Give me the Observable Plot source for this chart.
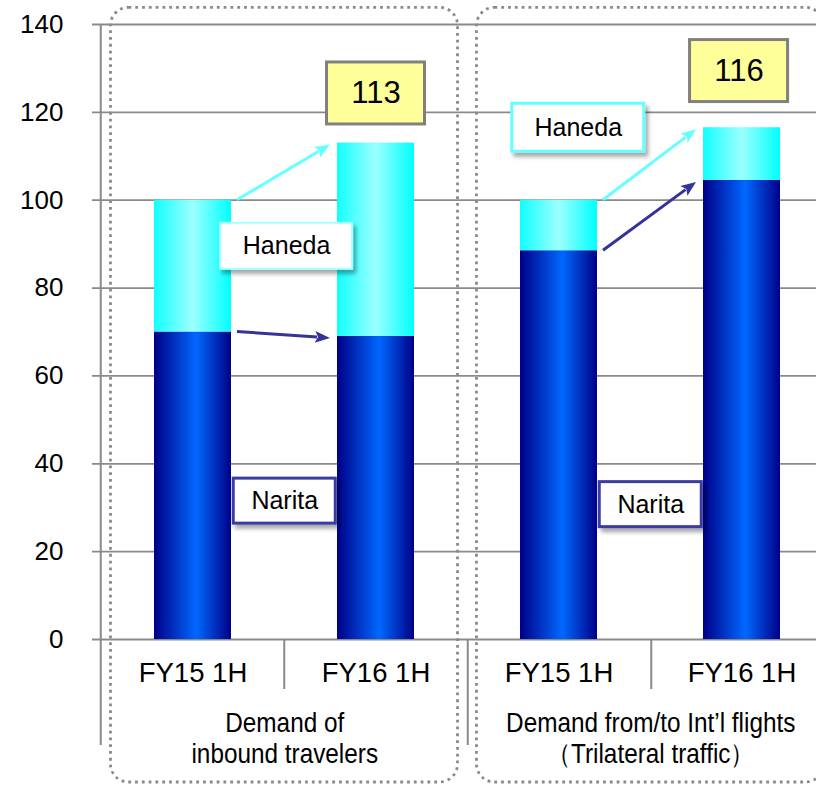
<!DOCTYPE html>
<html>
<head>
<meta charset="utf-8">
<script src="https://cdn.jsdelivr.net/npm/d3@7"></script>
<script src="https://cdn.jsdelivr.net/npm/@observablehq/plot@0.6"></script>
<style>
  html, body { margin: 0; padding: 0; background: #fff; overflow: hidden; }
  #chart { width: 816px; height: 785px; overflow: hidden; }
  #chart g[aria-label="x-axis tick label"] text, #chart g[aria-label="x-axis"] text { font-size: 27.5px; }
</style>
</head>
<body>
<div id="chart"></div>
<script>
// ---------- data ----------
const groups = ["inbound", "intl"];
const groupLabels = [
  ["Demand of", "inbound travelers"],
  ["Demand from/to Int\u2019l flights", "\uFF08Trilateral traffic\uFF09"]
];
const periods = ["FY15 1H", "FY16 1H"];
const seriesNames = ["Narita", "Haneda"];
const naritaValues = [70, 69, 88.5, 104.5];
const hanedaValues = [30, 44, 11.5, 12];
const totalLabels = ["113", "116"];
const yTicks = [0, 20, 40, 60, 80, 100, 120, 140];

// ---------- derived tables ----------
const keys = groups.flatMap(g => periods.map(p => `${g}|${p}`));
const rows = keys.flatMap((k, i) => [
  {key: k, series: seriesNames[0], value: naritaValues[i]},
  {key: k, series: seriesNames[1], value: hanedaValues[i]}
]);
const totals = keys.map((k, i) => naritaValues[i] + hanedaValues[i]);

// ---------- layout / style ----------
const W = 816, H = 785;
const xRange = [100, 834];
const step = (xRange[1] - xRange[0]) / keys.length;
const gridColor = "#8a8a8a";
const mainFont = "'Liberation Sans', Arial, sans-serif";
const narrowScale = 0.885;

// annotation boxes: anchored on a bar (index), shifted by a fraction of a step, at a y value
const notes = [
  {text: seriesNames[1], at: 0, shift: 0.51, value: 89.5, style: "hanedaSoft"},
  {text: seriesNames[0], at: 0, shift: 0.5, value: 31.5, style: "narita"},
  {text: totalLabels[0], at: 1, shift: 0, value: 124.3, style: "total"},
  {text: seriesNames[1], at: 2, shift: 0.105, value: 116.5, style: "haneda"},
  {text: seriesNames[0], at: 2, shift: 0.5, value: 30.7, style: "narita"},
  {text: totalLabels[1], at: 3, shift: -0.016, value: 129.4, style: "total"}
];
const boxStyles = {
  hanedaSoft: {w: 132, h: 46, fill: "#fff", stroke: "#a8ffff", sw: 2, shadow: true, fs: 25},
  haneda: {w: 132, h: 48, fill: "#fff", stroke: "#66ffff", sw: 3, shadow: true, fs: 25},
  narita: {w: 102, h: 45, fill: "#fff", stroke: "#3b3ba6", sw: 3, shadow: true, fs: 25},
  total: {w: 98, h: 62, fill: "#ffff99", stroke: "#808080", sw: 3, shadow: false, fs: 31}
};
// white cards hiding gridlines in the gaps between bars
const patches = [
  {at: 0, lo: 79.3, hi: 99.3},
  {at: 0, lo: 19.5, hi: 38.9},
  {at: 2, lo: 19.5, hi: 38.9}
];

// ---------- custom render marks (use Plot's scales) ----------
function defsMark() {
  const g = d3.create("svg:g");
  const defs = g.append("defs");
  const gn = defs.append("linearGradient").attr("id", "gradNarita").attr("x1", 0).attr("x2", 1).attr("y1", 0).attr("y2", 0);
  [[0, "#000088"], [0.55, "#0068ff"], [1, "#000088"]].forEach(([o, c]) => gn.append("stop").attr("offset", o).attr("stop-color", c));
  const gh = defs.append("linearGradient").attr("id", "gradHaneda").attr("x1", 0).attr("x2", 1).attr("y1", 0).attr("y2", 0);
  [[0, "#11ffff"], [0.5, "#9cffff"], [1, "#00ffff"]].forEach(([o, c]) => gh.append("stop").attr("offset", o).attr("stop-color", c));
  const f = defs.append("filter").attr("id", "shadow").attr("x", "-20%").attr("y", "-20%").attr("width", "150%").attr("height", "160%");
  f.append("feDropShadow").attr("dx", 3).attr("dy", 4).attr("stdDeviation", 2.2).attr("flood-color", "#000").attr("flood-opacity", 0.35);
  return g.node();
}

function framesMark(index, scales, values, dims) {
  const {x, y} = scales;
  const bw = x.bandwidth();
  const g = d3.create("svg:g").attr("fill", "none").attr("stroke", gridColor)
    .attr("stroke-width", 2.8).attr("stroke-dasharray", "2.8 4");
  groups.forEach((grp, gi) => {
    const left = x(keys[2 * gi]) + bw / 2 - 0.447 * step;
    const right = x(keys[2 * gi + 1]) + bw / 2 + 0.447 * step;
    const top = y(143.8);
    const bottom = dims.height - 3;
    g.append("rect").attr("x", left).attr("y", top).attr("width", right - left)
      .attr("height", bottom - top).attr("rx", 18).attr("ry", 18);
  });
  return g.node();
}

function patchesMark(index, scales) {
  const {x, y} = scales;
  const bw = x.bandwidth();
  const g = d3.create("svg:g").attr("fill", "#fff");
  patches.forEach(p => {
    const x1 = x(keys[p.at]) + bw, x2 = x(keys[p.at + 1]);
    g.append("rect").attr("x", x1).attr("y", y(p.hi)).attr("width", x2 - x1).attr("height", y(p.lo) - y(p.hi));
  });
  return g.node();
}

function separatorsMark(index, scales) {
  const {x, y} = scales;
  const bw = x.bandwidth();
  const y0 = y(0);
  const g = d3.create("svg:g").attr("stroke", gridColor).attr("stroke-width", 2);
  for (let i = 0; i <= keys.length; i++) {
    const ex = x(keys[0]) + bw / 2 - step / 2 + i * step;
    const top = i === 0 ? y(yTicks[yTicks.length - 1]) : y0;
    const bottom = i % 2 === 0 ? y0 + 106 : y0 + 50;
    g.append("line").attr("x1", ex).attr("x2", ex).attr("y1", top).attr("y2", bottom);
  }
  return g.node();
}

function arrowsMark(index, scales) {
  const {x, y} = scales;
  const bw = x.bandwidth();
  const g = d3.create("svg:g");
  const specs = [];
  groups.forEach((grp, gi) => {
    const a = 2 * gi, b = 2 * gi + 1;
    specs.push({k1: keys[a], k2: keys[b], v1: totals[a], v2: totals[b], color: "#66ffff"});
    specs.push({k1: keys[a], k2: keys[b], v1: naritaValues[a], v2: naritaValues[b], color: "#333399"});
  });
  specs.forEach(s => {
    const sx = x(s.k1) + bw + 6, sy = y(s.v1);
    const ex = x(s.k2) - 7, ey = y(s.v2) + 2;
    const ang = Math.atan2(ey - sy, ex - sx);
    const L = 15, hw = 6;
    const bx = ex - L * Math.cos(ang), by = ey - L * Math.sin(ang);
    g.append("line").attr("x1", sx).attr("y1", sy).attr("x2", bx + 2 * Math.cos(ang)).attr("y2", by + 2 * Math.sin(ang))
      .attr("stroke", s.color).attr("stroke-width", 3);
    const px = -Math.sin(ang), py = Math.cos(ang);
    g.append("path")
      .attr("d", `M${ex},${ey}L${bx + hw * px},${by + hw * py}L${bx + 3 * Math.cos(ang)},${by + 3 * Math.sin(ang)}L${bx - hw * px},${by - hw * py}Z`)
      .attr("fill", s.color);
  });
  return g.node();
}

function boxesMark(index, scales) {
  const {x, y} = scales;
  const bw = x.bandwidth();
  const g = d3.create("svg:g");
  notes.forEach(n => {
    const s = boxStyles[n.style];
    const cx = x(keys[n.at]) + bw / 2 + n.shift * step;
    const cy = y(n.value);
    g.append("rect").attr("x", cx - s.w / 2).attr("y", cy - s.h / 2).attr("width", s.w).attr("height", s.h)
      .attr("fill", s.fill).attr("stroke", s.stroke).attr("stroke-width", s.sw)
      .attr("filter", s.shadow ? "url(#shadow)" : null);
  });
  return g.node();
}

// ---------- text marks for notes ----------
const noteTexts = notes.map(n => Plot.text([n], {
  x: d => keys[d.at],
  y: "value",
  text: "text",
  dx: n.shift * step,
  fontSize: boxStyles[n.style].fs,
  fontFamily: mainFont,
  fill: "#000"
}));

const chart = Plot.plot({
  width: W,
  height: H,
  marginLeft: 100,
  marginRight: 0,
  marginTop: 24,
  marginBottom: 146,
  style: {fontFamily: mainFont, fontSize: "26px", color: "#000", background: "#fff"},
  x: {
    domain: keys,
    range: xRange,
    paddingInner: 0.58,
    paddingOuter: 0.29,
    tickSize: 0,
    tickPadding: 23,
    tickFormat: k => k.split("|")[1],
    label: null
  },
  y: {domain: [0, 140], ticks: yTicks, tickSize: 0, tickPadding: 37, label: null},
  color: {type: "identity"},
  marks: [
    defsMark,
    Plot.ruleY(yTicks, {stroke: gridColor, strokeWidth: 1.8, insetLeft: -8}),
    patchesMark,
    framesMark,
    Plot.barY(rows, {
      x: "key",
      y: "value",
      fill: d => d.series === seriesNames[0] ? "url(#gradNarita)" : "url(#gradHaneda)"
    }),
    separatorsMark,
    arrowsMark,
    boxesMark,
    ...noteTexts,
    Plot.text(groups, {
      x: g => `${g}|${periods[0]}`,
      text: (g, i) => groupLabels[i].join("\n"),
      frameAnchor: "bottom",
      lineAnchor: "top",
      dx: step / 2,
      dy: 71,
      lineHeight: 1.12,
      fontSize: 27.5,
      fontFamily: mainFont,
      fill: "#000"
    })
  ]
});
// condense the group captions (the original uses a narrow typeface)
const captionFirstLines = groupLabels.map(l => l[0]);
chart.querySelectorAll("text").forEach(t => {
  const first = t.querySelector("tspan");
  const content = first ? first.textContent : t.textContent;
  if (captionFirstLines.some(c => content.startsWith(c))) {
    const tr = t.getAttribute("transform") || "";
    t.setAttribute("transform", `${tr} scale(${narrowScale},1)`);
  }
});
document.getElementById("chart").appendChild(chart);
</script>
</body>
</html>
